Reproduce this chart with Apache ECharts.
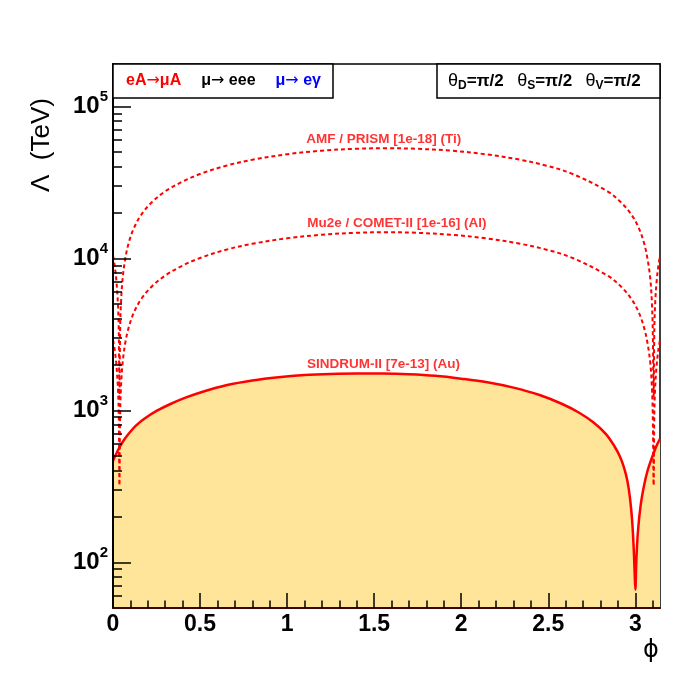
<!DOCTYPE html>
<html>
<head>
<meta charset="utf-8">
<script src="https://cdn.jsdelivr.net/npm/echarts@6/dist/echarts.min.js"></script>
<style>
  html, body { margin: 0; padding: 0; background: #fff; }
  #chart { width: 677px; height: 681px; }
</style>
</head>
<body>
<div id="chart"></div>
<script>
// phi (rad) -> Lambda (TeV)
const phiSindrum = [0, 0.03, 0.06, 0.09, 0.13, 0.18, 0.25, 0.33, 0.42, 0.52, 0.65, 0.8, 0.95, 1.1, 1.25, 1.4, 1.55, 1.7, 1.85, 2.0, 2.15, 2.3, 2.45, 2.58, 2.68, 2.76, 2.83, 2.88, 2.91, 2.935, 2.955, 2.97, 2.982, 2.991, 2.996, 3.0, 3.006, 3.015, 3.03, 3.05, 3.07, 3.09, 3.11, 3.125, 3.1416];
const lamSindrum = [465, 550, 630, 700, 790, 880, 990, 1100, 1215, 1330, 1460, 1570, 1650, 1705, 1735, 1748, 1745, 1725, 1685, 1615, 1530, 1410, 1260, 1100, 960, 830, 700, 580, 500, 420, 340, 260, 185, 120, 85, 66, 105, 160, 235, 320, 400, 470, 540, 595, 650];

const phiDashed = [0, 0.01, 0.02, 0.028, 0.033, 0.037, 0.041, 0.046, 0.055, 0.07, 0.09, 0.12, 0.16, 0.22, 0.3, 0.4, 0.5, 0.65, 0.8, 1.0, 1.2, 1.4, 1.57, 1.74, 1.94, 2.14, 2.34, 2.49, 2.64, 2.84, 2.92, 2.98, 3.02, 3.05, 3.07, 3.086, 3.095, 3.1, 3.105, 3.109, 3.114, 3.122, 3.132, 3.1416];
const lamAmf = [10400, 8900, 7000, 5100, 3400, 1200, 3400, 5100, 7300, 9900, 12600, 15800, 19200, 23200, 27600, 32000, 35900, 40700, 44500, 48400, 51100, 52600, 53000, 52600, 51100, 48400, 44500, 40700, 35900, 27600, 23200, 19200, 15800, 12600, 9900, 7300, 5100, 3400, 1200, 3400, 5100, 7000, 8900, 10400];
const lamMu2e = [2900, 2500, 1960, 1430, 950, 320, 950, 1430, 2040, 2760, 3500, 4400, 5350, 6480, 7700, 8960, 10050, 11400, 12460, 13550, 14300, 14730, 14840, 14730, 14300, 13550, 12460, 11400, 10050, 7700, 6480, 5350, 4400, 3500, 2760, 2040, 1430, 950, 320, 950, 1430, 1960, 2500, 2900];

const curveLabels = [
  { name: 'AMF / PRISM [1e-18] (Ti)', value: [1.555, 61000] },
  { name: 'Mu2e / COMET-II [1e-16] (Al)', value: [1.63, 17100] },
  { name: 'SINDRUM-II [7e-13] (Au)', value: [1.553, 2010] }
];

const xMajorTicks = [0, 0.5, 1, 1.5, 2, 2.5, 3];
const xMinorTicks = [0.1, 0.2, 0.3, 0.4, 0.6, 0.7, 0.8, 0.9, 1.1, 1.2, 1.3, 1.4, 1.6, 1.7, 1.8, 1.9, 2.1, 2.2, 2.3, 2.4, 2.6, 2.7, 2.8, 2.9, 3.1];
const yMajorTicks = [100, 1000, 10000, 100000];
const yMinorTicks = [60, 70, 80, 90, 200, 300, 400, 500, 600, 700, 800, 900, 2000, 3000, 4000, 5000, 6000, 7000, 8000, 9000, 20000, 30000, 40000, 50000, 60000, 70000, 80000, 90000];

function pairs(xs, ys) {
  return xs.map((x, i) => [x, ys[i]]);
}

const FONT = 'Liberation Sans';
const chart = echarts.init(document.getElementById('chart'));

const xBase = {
  type: 'value', min: 0, max: Math.PI, gridIndex: 0, position: 'bottom', z: 5,
  splitLine: { show: false }
};
const yBase = {
  type: 'log', logBase: 10, min: 50, max: 190000, gridIndex: 0, position: 'left', z: 5,
  splitLine: { show: false }
};

chart.setOption({
  animation: false,
  backgroundColor: '#fff',
  grid: {
    left: 113, right: 17, top: 64, bottom: 73,
    show: true, borderColor: '#000', borderWidth: 1.5, backgroundColor: 'transparent'
  },
  xAxis: [
    Object.assign({}, xBase, {
      axisLine: { lineStyle: { color: '#3a0606', width: 2 } },
      axisTick: { inside: true, length: 15, customValues: xMajorTicks, lineStyle: { color: '#000', width: 1.5 } },
      axisLabel: {
        customValues: xMajorTicks, margin: 5, color: '#000',
        fontFamily: FONT, fontWeight: 'bold', fontSize: 23,
        formatter: v => String(v)
      }
    }),
    Object.assign({}, xBase, {
      axisLine: { show: false },
      axisTick: { inside: true, length: 7.5, customValues: xMinorTicks, lineStyle: { color: '#000', width: 1.5 } },
      axisLabel: { show: false }
    })
  ],
  yAxis: [
    Object.assign({}, yBase, {
      axisLine: { lineStyle: { color: '#000', width: 2 } },
      axisTick: { inside: true, length: 18, customValues: yMajorTicks, lineStyle: { color: '#000', width: 1.5 } },
      axisLabel: {
        customValues: yMajorTicks, margin: 5,
        formatter: v => '{b|10}{s|' + Math.round(Math.log10(v)) + '}',
        rich: {
          b: { fontFamily: FONT, fontWeight: 'bold', fontSize: 24, color: '#000', lineHeight: 34 },
          s: { fontFamily: FONT, fontWeight: 'bold', fontSize: 15, color: '#000', lineHeight: 15, verticalAlign: 'top' }
        }
      }
    }),
    Object.assign({}, yBase, {
      axisLine: { show: false },
      axisTick: { inside: true, length: 9, customValues: yMinorTicks, lineStyle: { color: '#000', width: 1.5 } },
      axisLabel: { show: false }
    })
  ],
  series: [
    {
      name: 'SINDRUM-II', type: 'line', xAxisIndex: 0, yAxisIndex: 0,
      data: pairs(phiSindrum, lamSindrum),
      showSymbol: false, smooth: 0.35,
      lineStyle: { color: '#ff0000', width: 2.5 },
      areaStyle: { color: '#ffe599', opacity: 1, origin: 'start' },
      z: 2
    },
    {
      name: 'AMF / PRISM', type: 'line', xAxisIndex: 0, yAxisIndex: 0,
      data: pairs(phiDashed, lamAmf),
      showSymbol: false, smooth: 0.35,
      lineStyle: { color: '#ff0000', width: 2, type: [4, 3] },
      z: 3
    },
    {
      name: 'Mu2e / COMET-II', type: 'line', xAxisIndex: 0, yAxisIndex: 0,
      data: pairs(phiDashed, lamMu2e),
      showSymbol: false, smooth: 0.35,
      lineStyle: { color: '#ff0000', width: 2, type: [4, 3] },
      z: 3
    },
    {
      name: 'labels', type: 'scatter', xAxisIndex: 0, yAxisIndex: 0,
      data: curveLabels, symbolSize: 0, silent: true,
      label: {
        show: true, position: 'inside', formatter: '{b}',
        color: '#ff0000', fontFamily: FONT, fontWeight: 'bold', fontSize: 13.5
      },
      z: 4
    }
  ],
  graphic: [
    {
      type: 'text', x: 42, y: 145, rotation: Math.PI / 2, z: 10,
      style: { text: 'Λ  (TeV)', fontFamily: FONT, fontSize: 26, fill: '#000', align: 'center', verticalAlign: 'middle' }
    },
    {
      type: 'text', x: 651, y: 651, z: 10,
      style: { text: 'ϕ', fontFamily: 'DejaVu Sans', fontSize: 24, fill: '#000', align: 'center', verticalAlign: 'middle' }
    },
    {
      type: 'rect', z: 10, shape: { x: 113, y: 64, width: 220, height: 34 },
      style: { fill: '#fff', stroke: '#000', lineWidth: 1.5 }
    },
    {
      type: 'text', x: 126, y: 81, z: 11,
      style: {
        text: '{r|eA}{ra|→}{r|μA}      {k|μ}{ka|→}{k| eee}      {bl|μ}{ba|→}{bl| eγ}',
        verticalAlign: 'middle',
        rich: {
          r: { fontFamily: FONT, fontWeight: 'bold', fontSize: 16, fill: '#ff0000' },
          ra: { fontFamily: 'DejaVu Sans', fontSize: 16, fill: '#ff0000' },
          k: { fontFamily: FONT, fontWeight: 'bold', fontSize: 16, fill: '#000' },
          ka: { fontFamily: 'DejaVu Sans', fontSize: 16, fill: '#000' },
          bl: { fontFamily: FONT, fontWeight: 'bold', fontSize: 16, fill: '#0000ff' },
          ba: { fontFamily: 'DejaVu Sans', fontSize: 16, fill: '#0000ff' }
        }
      }
    },
    {
      type: 'rect', z: 10, shape: { x: 437, y: 64, width: 223, height: 34 },
      style: { fill: '#fff', stroke: '#000', lineWidth: 1.5 }
    },
    {
      type: 'text', x: 448, y: 81, z: 11,
      style: {
        text: '{g|θ}{d|D}{m|=π/2}    {g|θ}{d|S}{m|=π/2}    {g|θ}{d|V}{m|=π/2}',
        verticalAlign: 'middle',
        rich: {
          g: { fontFamily: FONT, fontSize: 18, fill: '#000', lineHeight: 22 },
          m: { fontFamily: FONT, fontWeight: 'bold', fontSize: 17, fill: '#000', lineHeight: 22 },
          d: { fontFamily: FONT, fontWeight: 'bold', fontSize: 12, fill: '#000', lineHeight: 11, verticalAlign: 'bottom' }
        }
      }
    }
  ]
});
</script>
</body>
</html>
